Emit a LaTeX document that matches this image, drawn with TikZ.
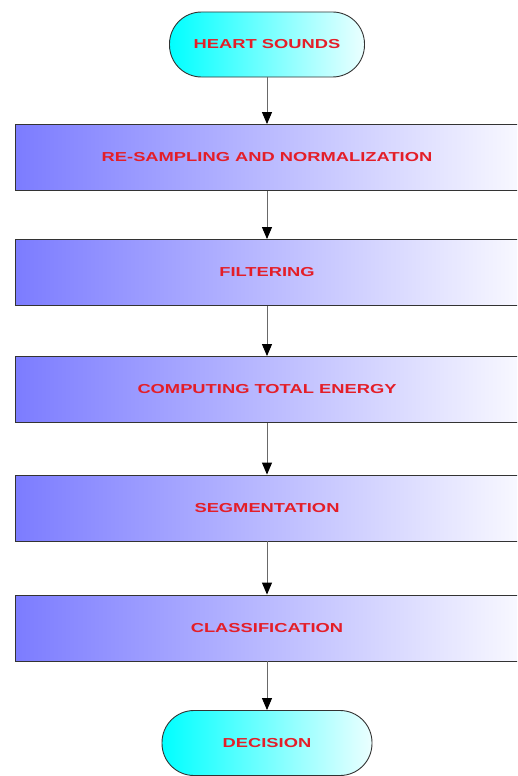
\documentclass[tikz,border=0pt]{standalone}
\usepackage{fontspec}
\setmainfont{Liberation Sans}
\usetikzlibrary{arrows.meta}
\definecolor{boxleft}{RGB}{124,124,255}
\definecolor{boxright}{RGB}{248,248,255}
\definecolor{termleft}{RGB}{0,255,255}
\definecolor{termright}{RGB}{235,255,255}
\definecolor{labred}{RGB}{228,30,40}
\definecolor{linegray}{RGB}{105,105,105}
\newcommand{\lbl}[1]{\scalebox{1.41}[1]{\bfseries #1}}
\tikzset{
  stepbox/.style={draw=black!80, line width=0.9pt, minimum width=504pt, minimum height=66pt,
    left color=boxleft, right color=boxright, text=labred, font=\fontsize{13pt}{15pt}\selectfont, inner sep=0pt},
  term/.style={draw=black!80, line width=0.9pt, rounded corners=32pt, minimum width=195pt, minimum height=65pt,
    left color=termleft, right color=termright, text=labred, font=\fontsize{13pt}{15pt}\selectfont, inner sep=0pt},
  flow/.style={draw=linegray, line width=1pt, -{Triangle[length=12pt,width=10pt,fill=black,color=black]}}
}
\begin{document}
\begin{tikzpicture}[x=1pt,y=-1pt]
\useasboundingbox (0,0) rectangle (517,776);
\clip (0,0) rectangle (517,776);
\node[term] (hs) at (267,44.5) {\lbl{HEART SOUNDS}};
\node[stepbox] (b1) at (267,157.5) {\lbl{RE-SAMPLING AND NORMALIZATION}};
\node[stepbox] (b2) at (267,272.5) {\lbl{FILTERING}};
\node[stepbox] (b3) at (267,389.5) {\lbl{COMPUTING TOTAL ENERGY}};
\node[stepbox] (b4) at (267,508) {\lbl{SEGMENTATION}};
\node[stepbox] (b5) at (267,628) {\lbl{CLASSIFICATION}};
\node[term, minimum width=210pt] (dc) at (267,743) {\lbl{DECISION}};
\draw[flow] (hs) -- (b1);
\draw[flow] (b1) -- (b2);
\draw[flow] (b2) -- (b3);
\draw[flow] (b3) -- (b4);
\draw[flow] (b4) -- (b5);
\draw[flow] (b5) -- (dc);
\end{tikzpicture}
\end{document}
